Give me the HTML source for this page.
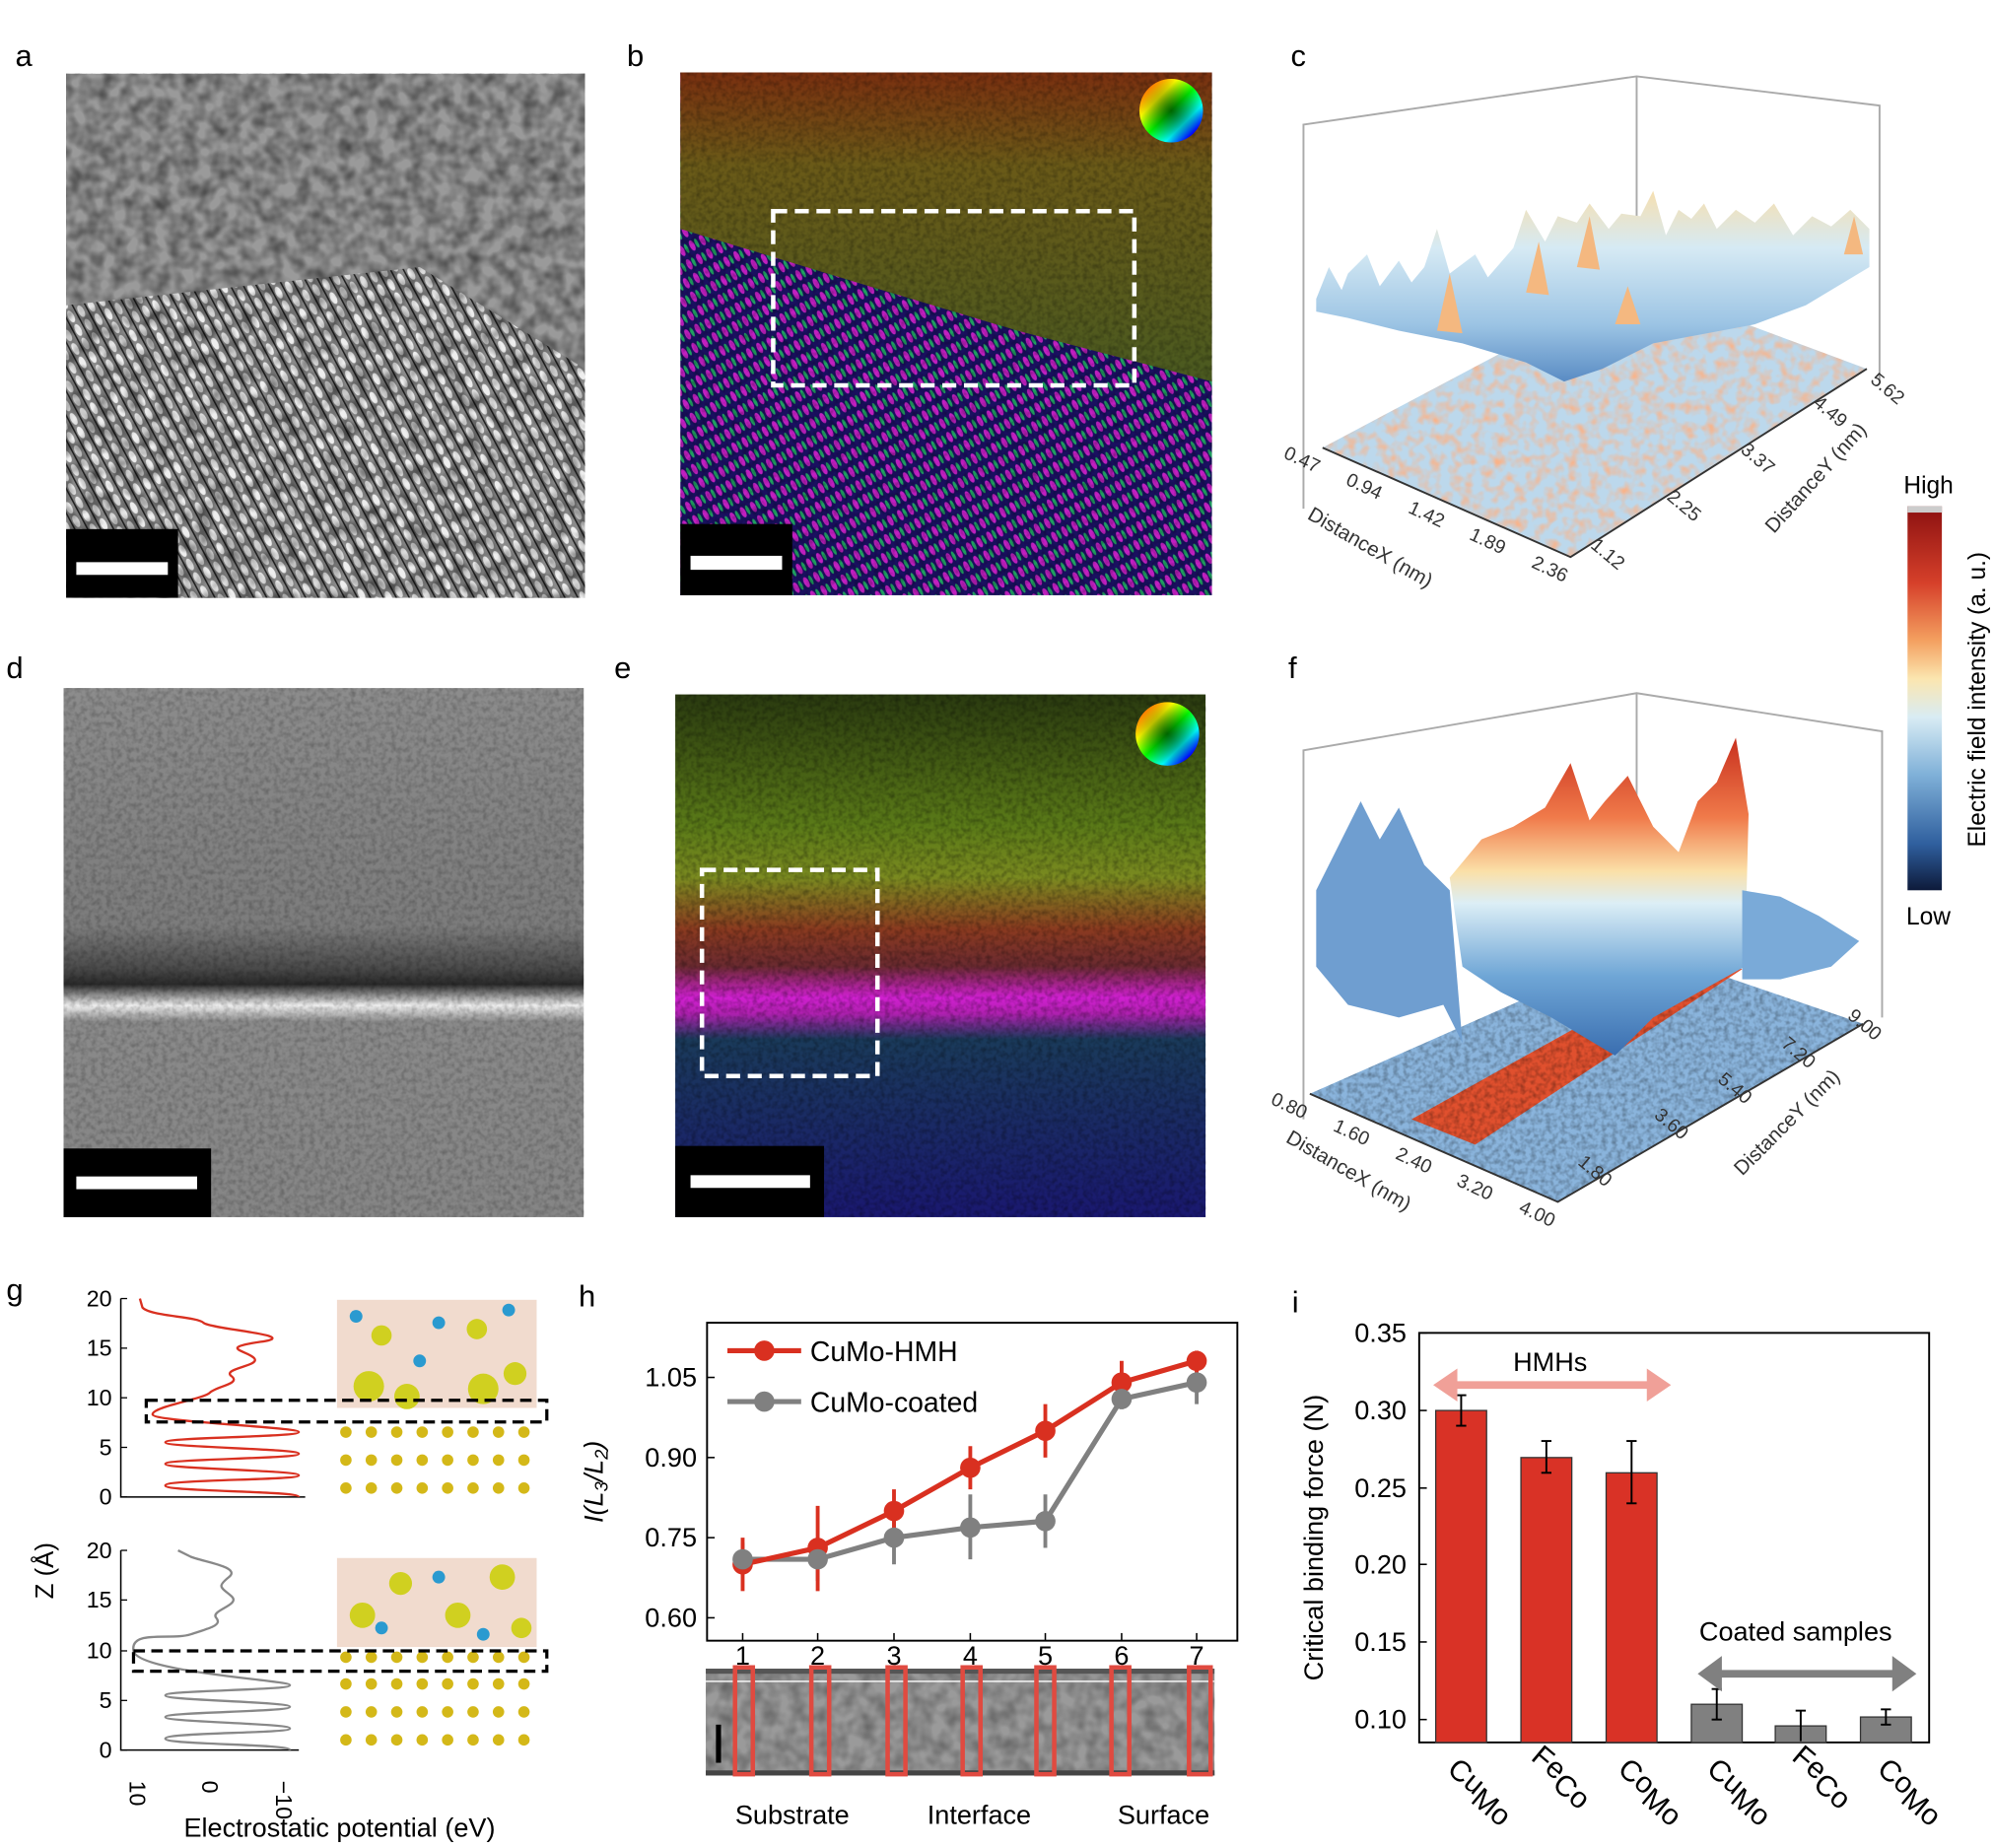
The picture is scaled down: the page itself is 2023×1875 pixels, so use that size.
<!DOCTYPE html>
<html><head><meta charset="utf-8"><style>html,body{margin:0;padding:0;background:#fff}svg{display:block}text{font-family:"Liberation Sans",sans-serif}</style></head><body>
<svg width="2023" height="1875" viewBox="0 0 1568 1453" preserveAspectRatio="none" xmlns="http://www.w3.org/2000/svg">
<defs>
<filter id="noiseG" x="0" y="0" width="100%" height="100%"><feTurbulence type="fractalNoise" baseFrequency="0.09" numOctaves="2" seed="3"/><feColorMatrix type="matrix" values="0 0 0 0 0  0 0 0 0 0  0 0 0 0 0  0 0 0 -1.6 1.1"/></filter>
<filter id="noiseF" x="0" y="0" width="100%" height="100%"><feTurbulence type="fractalNoise" baseFrequency="0.25" numOctaves="2" seed="7"/><feColorMatrix type="matrix" values="0 0 0 0 0  0 0 0 0 0  0 0 0 0 0  0 0 0 -1.2 0.75"/></filter>
<filter id="noiseR" x="0" y="0" width="100%" height="100%"><feTurbulence type="fractalNoise" baseFrequency="0.12" numOctaves="2" seed="11"/><feColorMatrix type="matrix" values="0 0 0 0 0.95  0 0 0 0 0.45  0 0 0 0 0.25  0 0 0 -2 1.2"/></filter>
<clipPath id="clipC"><polygon points="1040,352 1235,438 1468,290 1285,222"/></clipPath>
<clipPath id="clipF"><polygon points="1030,860 1225,945 1465,805 1290,745"/></clipPath>
<pattern id="latA" width="9" height="12" patternUnits="userSpaceOnUse" patternTransform="rotate(-28)"><rect width="9" height="12" fill="#8a8a8a"/><ellipse cx="4.5" cy="6" rx="2.4" ry="5" fill="#eee"/><rect x="0" width="1.2" height="12" fill="#222"/></pattern>
<pattern id="latB" width="9" height="12" patternUnits="userSpaceOnUse" patternTransform="rotate(-28)"><rect width="9" height="12" fill="#1a1060"/><ellipse cx="3" cy="6" rx="2" ry="4.5" fill="#c020c0"/><ellipse cx="7" cy="6" rx="1.3" ry="4" fill="#20a060"/></pattern>
<linearGradient id="cbar" x1="0" y1="0" x2="0" y2="1"><stop offset="0" stop-color="#8b1010"/><stop offset="0.2" stop-color="#d6402a"/><stop offset="0.35" stop-color="#f4a060"/><stop offset="0.45" stop-color="#fbe6b0"/><stop offset="0.55" stop-color="#d8ecf4"/><stop offset="0.7" stop-color="#7fb0d8"/><stop offset="0.88" stop-color="#2f5f9e"/><stop offset="1" stop-color="#0d1a3a"/></linearGradient>
<linearGradient id="fwall" x1="0" y1="0" x2="0" y2="1"><stop offset="0" stop-color="#c8301e"/><stop offset="0.25" stop-color="#f07a4a"/><stop offset="0.42" stop-color="#fbe0a8"/><stop offset="0.52" stop-color="#dceef6"/><stop offset="0.75" stop-color="#6fa6d6"/><stop offset="1" stop-color="#3a6eb0"/></linearGradient>
<linearGradient id="csurf" x1="0" y1="0" x2="0" y2="1"><stop offset="0" stop-color="#f6dfb0"/><stop offset="0.3" stop-color="#d6eaf4"/><stop offset="0.7" stop-color="#9cc4e4"/><stop offset="1" stop-color="#5a8cc4"/></linearGradient>
<linearGradient id="eBg" x1="0" y1="0" x2="0" y2="1"><stop offset="0" stop-color="#2a3a10"/><stop offset="0.25" stop-color="#5a7a18"/><stop offset="0.35" stop-color="#7a8a20"/><stop offset="0.45" stop-color="#8a3a20"/><stop offset="0.52" stop-color="#6a2a30"/><stop offset="0.58" stop-color="#d020d0"/><stop offset="0.61" stop-color="#b020b0"/><stop offset="0.66" stop-color="#1a3a5a"/><stop offset="1" stop-color="#1a1870"/></linearGradient>
<linearGradient id="bBg" x1="0" y1="0" x2="0" y2="1"><stop offset="0" stop-color="#7a3010"/><stop offset="0.3" stop-color="#6a5a18"/><stop offset="1" stop-color="#4a5a20"/></linearGradient>
<linearGradient id="dBg" x1="0" y1="0" x2="0" y2="1"><stop offset="0" stop-color="#8c8c8c"/><stop offset="0.45" stop-color="#7c7c7c"/><stop offset="0.53" stop-color="#4a4a4a"/><stop offset="0.56" stop-color="#2a2a2a"/><stop offset="0.6" stop-color="#eeeeee"/><stop offset="0.63" stop-color="#8a8a8a"/><stop offset="1" stop-color="#858585"/></linearGradient>
<radialGradient id="wheel"><stop offset="0" stop-color="#000"/><stop offset="1" stop-color="#000" stop-opacity="0"/></radialGradient>
<linearGradient id="wheelc" x1="0" y1="0" x2="1" y2="1"><stop offset="0" stop-color="#f00"/><stop offset="0.3" stop-color="#ff0"/><stop offset="0.5" stop-color="#0f0"/><stop offset="0.7" stop-color="#0ff"/><stop offset="0.85" stop-color="#00f"/><stop offset="1" stop-color="#f0f"/></linearGradient>
<g id="row"><circle cx="272" cy="0" r="4.5"/><circle cx="292" cy="0" r="4.5"/><circle cx="312" cy="0" r="4.5"/><circle cx="332" cy="0" r="4.5"/><circle cx="352" cy="0" r="4.5"/><circle cx="372" cy="0" r="4.5"/><circle cx="392" cy="0" r="4.5"/><circle cx="412" cy="0" r="4.5"/></g>
</defs>
<rect width="1568" height="1453" fill="#fff"/>

<g font-size="24" fill="#000"><text x="12" y="52">a</text><text x="493" y="52">b</text><text x="1015" y="52">c</text><text x="5" y="533">d</text><text x="483" y="533">e</text><text x="1013" y="533">f</text><text x="5" y="1022">g</text><text x="455" y="1027">h</text><text x="1016" y="1032">i</text></g>

<!-- panel a -->
<rect x="52" y="58" width="408" height="412" fill="url(#latA)"/>
<polygon points="52,58 460,58 460,290 330,210 52,240" fill="#9a9a9a"/>
<rect x="52" y="58" width="408" height="412" filter="url(#noiseG)" opacity="0.55"/>
<rect x="52" y="416" width="88" height="54" fill="#000"/><rect x="60" y="442" width="72" height="10" fill="#fff"/>

<!-- panel b -->
<rect x="535" y="57" width="418" height="411" fill="url(#latB)"/>
<polygon points="535,57 953,57 953,300 800,260 700,230 535,180" fill="url(#bBg)"/>
<rect x="535" y="57" width="418" height="411" filter="url(#noiseF)" opacity="0.45"/>
<rect x="608" y="166" width="284" height="137" fill="none" stroke="#fff" stroke-width="3.5" stroke-dasharray="11,6"/>
<circle cx="921" cy="87" r="25" fill="url(#wheelc)"/><circle cx="921" cy="87" r="25" fill="url(#wheel)" opacity="0.6"/>
<rect x="535" y="412" width="88" height="56" fill="#000"/><rect x="543" y="437" width="72" height="11" fill="#fff"/>

<!-- panel c -->
<g stroke="#aaa" stroke-width="1.5" fill="none"><polyline points="1025,400 1025,98 1287,60 1478,83 1478,300"/><line x1="1287" y1="60" x2="1287" y2="230"/></g>
<polygon points="1040,352 1235,438 1468,290 1285,222" fill="#bcd8ec"/>
<g clip-path="url(#clipC)"><rect x="1030" y="215" width="450" height="230" filter="url(#noiseR)"/></g>
<polyline points="1040,352 1235,438 1468,290" fill="none" stroke="#333" stroke-width="1.5"/>
<polygon points="1035,235 1045,210 1055,228 1060,215 1075,200 1085,225 1100,205 1110,222 1120,210 1130,180 1140,215 1160,200 1170,218 1190,195 1200,165 1215,190 1225,170 1240,175 1250,160 1265,180 1275,168 1290,170 1300,150 1310,185 1320,165 1330,172 1340,160 1350,180 1365,165 1380,175 1395,160 1410,185 1425,170 1440,178 1455,165 1470,180 1470,210 1420,240 1380,255 1300,270 1260,290 1230,300 1200,285 1150,270 1100,260 1060,250 1035,245" fill="url(#csurf)"/>
<g fill="#f4b880"><polygon points="1130,260 1140,215 1150,262"/><polygon points="1270,255 1280,225 1290,255"/><polygon points="1200,230 1210,190 1218,232"/><polygon points="1240,210 1250,170 1258,212"/><polygon points="1450,200 1458,170 1465,200"/></g>
<g font-size="15" fill="#333">
<text transform="translate(1035,372) rotate(25)" text-anchor="end">0.47</text><text transform="translate(1084,393) rotate(25)" text-anchor="end">0.94</text><text transform="translate(1133,415) rotate(25)" text-anchor="end">1.42</text><text transform="translate(1181,436) rotate(25)" text-anchor="end">1.89</text><text transform="translate(1230,458) rotate(25)" text-anchor="end">2.36</text>
<text transform="translate(1075,435) rotate(30)" font-size="16" text-anchor="middle">DistanceX (nm)</text>
<text transform="translate(1250,430) rotate(40)">1.12</text><text transform="translate(1310,392) rotate(40)">2.25</text><text transform="translate(1368,355) rotate(40)">3.37</text><text transform="translate(1425,318) rotate(40)">4.49</text><text transform="translate(1470,300) rotate(40)">5.62</text>
<text transform="translate(1395,420) rotate(-48)" font-size="16">DistanceY (nm)</text></g>

<!-- colorbar -->
<rect x="1500" y="398" width="27" height="302" fill="url(#cbar)"/><rect x="1500" y="398" width="27" height="5" fill="#ccc"/>
<text x="1497" y="388" font-size="19">High</text><text x="1499" y="727" font-size="19">Low</text>
<text transform="translate(1561,550) rotate(-90)" font-size="19" text-anchor="middle">Electric field intensity (a. u.)</text>

<!-- panel d -->
<rect x="50" y="541" width="409" height="416" fill="url(#dBg)"/>
<rect x="50" y="541" width="409" height="416" filter="url(#noiseF)" opacity="0.35"/>
<rect x="50" y="903" width="116" height="54" fill="#000"/><rect x="60" y="925" width="95" height="10" fill="#fff"/>

<!-- panel e -->
<rect x="531" y="546" width="417" height="411" fill="url(#eBg)"/>
<rect x="531" y="546" width="417" height="411" filter="url(#noiseF)" opacity="0.5"/>
<rect x="552" y="684" width="138" height="162" fill="none" stroke="#fff" stroke-width="3.5" stroke-dasharray="11,6"/>
<circle cx="918" cy="577" r="25" fill="url(#wheelc)"/><circle cx="918" cy="577" r="25" fill="url(#wheel)" opacity="0.6"/>
<rect x="531" y="901" width="117" height="56" fill="#000"/><rect x="543" y="924" width="94" height="10" fill="#fff"/>

<!-- panel f -->
<g stroke="#aaa" stroke-width="1.5" fill="none"><polyline points="1025,880 1025,590 1287,545 1480,575 1480,800"/><line x1="1287" y1="545" x2="1287" y2="740"/></g>
<polygon points="1030,860 1225,945 1465,805 1290,745" fill="#8ab4dc"/>
<polygon points="1110,880 1160,900 1370,762 1340,752" fill="#e0502e"/>
<g clip-path="url(#clipF)"><rect x="1025" y="740" width="445" height="210" fill="#2a5aa0" filter="url(#noiseF)" opacity="0.5"/></g>
<polyline points="1030,860 1225,945 1465,805" fill="none" stroke="#333" stroke-width="1.5"/>
<polygon points="1035,700 1050,670 1070,630 1085,660 1100,635 1120,680 1140,700 1150,820 1135,790 1100,800 1060,790 1035,760" fill="#6f9ed0"/>
<polygon points="1140,690 1165,660 1190,650 1215,635 1235,600 1250,645 1262,630 1280,610 1300,650 1320,670 1335,630 1350,615 1365,580 1375,640 1372,760 1300,800 1270,830 1220,800 1180,780 1150,760" fill="url(#fwall)"/>
<polygon points="1370,700 1400,705 1430,720 1462,740 1440,760 1400,770 1370,770" fill="#7aaad8"/>
<g font-size="15" fill="#333">
<text transform="translate(1025,880) rotate(25)" text-anchor="end">0.80</text><text transform="translate(1074,901) rotate(25)" text-anchor="end">1.60</text><text transform="translate(1123,923) rotate(25)" text-anchor="end">2.40</text><text transform="translate(1171,944) rotate(25)" text-anchor="end">3.20</text><text transform="translate(1220,965) rotate(25)" text-anchor="end">4.00</text>
<text transform="translate(1058,925) rotate(30)" font-size="16" text-anchor="middle">DistanceX (nm)</text>
<text transform="translate(1240,915) rotate(40)">1.80</text><text transform="translate(1300,878) rotate(40)">3.60</text><text transform="translate(1350,850) rotate(40)">5.40</text><text transform="translate(1400,822) rotate(40)">7.20</text><text transform="translate(1452,800) rotate(40)">9.00</text>
<text transform="translate(1370,925) rotate(-45)" font-size="16">DistanceY (nm)</text></g>

<!-- panel g -->
<g stroke="#000" stroke-width="1.2" fill="none"><polyline points="95,1021 95,1177 240,1177"/><polyline points="95,1219 95,1376 235,1376"/></g>
<g stroke="#000" stroke-width="1"><line x1="95" y1="1177" x2="100" y2="1177"/><line x1="95" y1="1138" x2="100" y2="1138"/><line x1="95" y1="1099" x2="100" y2="1099"/><line x1="95" y1="1060" x2="100" y2="1060"/><line x1="95" y1="1021" x2="100" y2="1021"/>
<line x1="95" y1="1376" x2="100" y2="1376"/><line x1="95" y1="1337" x2="100" y2="1337"/><line x1="95" y1="1298" x2="100" y2="1298"/><line x1="95" y1="1258" x2="100" y2="1258"/><line x1="95" y1="1219" x2="100" y2="1219"/></g>
<g font-size="18" text-anchor="end"><text x="88" y="1183">0</text><text x="88" y="1144">5</text><text x="88" y="1105">10</text><text x="88" y="1066">15</text><text x="88" y="1027">20</text>
<text x="88" y="1382">0</text><text x="88" y="1343">5</text><text x="88" y="1304">10</text><text x="88" y="1264">15</text><text x="88" y="1225">20</text></g>
<g font-size="18"><text transform="translate(102,1400) rotate(90)">10</text><text transform="translate(159,1400) rotate(90)">0</text><text transform="translate(217,1400) rotate(90)">−10</text></g>
<text transform="translate(42,1235) rotate(-90)" font-size="20" text-anchor="middle">Z (Å)</text>
<text x="267" y="1444" font-size="21" text-anchor="middle">Electrostatic potential (eV)</text>
<path d="M235,1177 C235,1172 130,1173 130,1168 S235,1164 235,1160 S130,1155 130,1151 S235,1147 235,1143 S130,1138 130,1134 S235,1130 235,1126 S120,1118 120,1112 S160,1100 165,1095 S190,1088 182,1082 S205,1074 200,1068 S170,1060 205,1055 S165,1045 160,1040 S118,1035 112,1028 L110,1021" fill="none" stroke="#d93020" stroke-width="1.8"/>
<path d="M228,1376 C228,1371 130,1372 130,1367 S228,1363 228,1359 S130,1354 130,1350 S228,1346 228,1342 S130,1337 130,1333 S228,1329 228,1325 S108,1315 105,1298 S135,1290 150,1285 S175,1278 170,1272 S190,1262 182,1255 S170,1248 180,1240 S160,1228 150,1224 L140,1219" fill="none" stroke="#888" stroke-width="1.8"/>
<g>
<rect x="265" y="1022" width="157" height="85" fill="#c8703a" opacity="0.25"/>
<g fill="#d0d020"><circle cx="290" cy="1090" r="12"/><circle cx="320" cy="1098" r="10"/><circle cx="380" cy="1092" r="12"/><circle cx="405" cy="1080" r="9"/><circle cx="300" cy="1050" r="8"/><circle cx="375" cy="1045" r="8"/></g>
<g fill="#2a9ad0"><circle cx="280" cy="1035" r="5"/><circle cx="345" cy="1040" r="5"/><circle cx="400" cy="1030" r="5"/><circle cx="330" cy="1070" r="5"/></g>
<rect x="265" y="1225" width="157" height="70" fill="#c8703a" opacity="0.25"/>
<g fill="#d0d020"><circle cx="285" cy="1270" r="10"/><circle cx="315" cy="1245" r="9"/><circle cx="360" cy="1270" r="10"/><circle cx="395" cy="1240" r="10"/><circle cx="410" cy="1280" r="8"/></g>
<g fill="#2a9ad0"><circle cx="300" cy="1280" r="5"/><circle cx="345" cy="1240" r="5"/><circle cx="380" cy="1285" r="5"/></g>
<g fill="#d4b818">
<use href="#row" y="1126"/><use href="#row" y="1148"/><use href="#row" y="1170"/>
<use href="#row" y="1324"/><use href="#row" y="1346"/><use href="#row" y="1368"/><use href="#row" y="1303"/>
</g>
</g>
<rect x="115" y="1101" width="315" height="17" fill="none" stroke="#000" stroke-width="2.5" stroke-dasharray="9,5"/>
<rect x="105" y="1298" width="325" height="16" fill="none" stroke="#000" stroke-width="2.5" stroke-dasharray="9,5"/>

<!-- panel h -->
<rect x="556" y="1040" width="417" height="250" fill="none" stroke="#000" stroke-width="1.5"/>
<g stroke="#000" stroke-width="1.2"><line x1="556" y1="1083" x2="562" y2="1083"/><line x1="556" y1="1146" x2="562" y2="1146"/><line x1="556" y1="1209" x2="562" y2="1209"/><line x1="556" y1="1272" x2="562" y2="1272"/>
<line x1="584" y1="1290" x2="584" y2="1284"/><line x1="643" y1="1290" x2="643" y2="1284"/><line x1="703" y1="1290" x2="703" y2="1284"/><line x1="763" y1="1290" x2="763" y2="1284"/><line x1="822" y1="1290" x2="822" y2="1284"/><line x1="882" y1="1290" x2="882" y2="1284"/><line x1="941" y1="1290" x2="941" y2="1284"/></g>
<g font-size="21" text-anchor="end"><text x="548" y="1090">1.05</text><text x="548" y="1153">0.90</text><text x="548" y="1216">0.75</text><text x="548" y="1279">0.60</text></g>
<g font-size="21" text-anchor="middle"><text x="584" y="1309">1</text><text x="643" y="1309">2</text><text x="703" y="1309">3</text><text x="763" y="1309">4</text><text x="822" y="1309">5</text><text x="882" y="1309">6</text><text x="941" y="1309">7</text></g>
<text transform="translate(474,1165) rotate(-90)" font-size="21" text-anchor="middle" font-style="italic">I(L<tspan font-size="14" dy="4">3</tspan><tspan dy="-4">/L</tspan><tspan font-size="14" dy="4">2</tspan><tspan dy="-4">)</tspan></text>
<g stroke="#808080" stroke-width="3"><line x1="584" y1="1213" x2="584" y2="1238"/><line x1="643" y1="1209" x2="643" y2="1243"/><line x1="703" y1="1188" x2="703" y2="1230"/><line x1="763" y1="1175" x2="763" y2="1226"/><line x1="822" y1="1175" x2="822" y2="1217"/><line x1="882" y1="1092" x2="882" y2="1108"/><line x1="941" y1="1070" x2="941" y2="1104"/></g>
<polyline points="584,1226 643,1226 703,1209 763,1201 822,1196 882,1100 941,1087" fill="none" stroke="#808080" stroke-width="4"/>
<g stroke="#d93020" stroke-width="3"><line x1="584" y1="1209" x2="584" y2="1251"/><line x1="643" y1="1184" x2="643" y2="1251"/><line x1="703" y1="1171" x2="703" y2="1205"/><line x1="763" y1="1137" x2="763" y2="1171"/><line x1="822" y1="1104" x2="822" y2="1146"/><line x1="882" y1="1070" x2="882" y2="1104"/><line x1="941" y1="1062" x2="941" y2="1079"/></g>
<polyline points="584,1230 643,1217 703,1188 763,1154 822,1125 882,1087 941,1070" fill="none" stroke="#d93020" stroke-width="4"/>
<g fill="#d93020"><circle cx="584" cy="1230" r="8"/><circle cx="643" cy="1217" r="8"/><circle cx="703" cy="1188" r="8"/><circle cx="763" cy="1154" r="8"/><circle cx="822" cy="1125" r="8"/><circle cx="882" cy="1087" r="8"/><circle cx="941" cy="1070" r="8"/></g>
<g fill="#808080"><circle cx="584" cy="1226" r="8"/><circle cx="643" cy="1226" r="8"/><circle cx="703" cy="1209" r="8"/><circle cx="763" cy="1201" r="8"/><circle cx="822" cy="1196" r="8"/><circle cx="882" cy="1100" r="8"/><circle cx="941" cy="1087" r="8"/></g>
<line x1="572" y1="1062" x2="630" y2="1062" stroke="#d93020" stroke-width="4"/><circle cx="601" cy="1062" r="8" fill="#d93020"/>
<line x1="572" y1="1102" x2="630" y2="1102" stroke="#808080" stroke-width="4"/><circle cx="601" cy="1102" r="8" fill="#808080"/>
<text x="637" y="1070" font-size="22">CuMo-HMH</text><text x="637" y="1110" font-size="22">CuMo-coated</text>
<rect x="555" y="1312" width="400" height="84" fill="#9a9a9a"/>
<rect x="555" y="1312" width="400" height="84" filter="url(#noiseG)" opacity="0.35"/>
<rect x="555" y="1312" width="400" height="4" fill="#555"/><rect x="555" y="1392" width="400" height="4" fill="#444"/>
<line x1="555" y1="1322" x2="955" y2="1322" stroke="#fff" stroke-width="1"/>
<rect x="563" y="1356" width="4" height="30" fill="#000"/>
<g fill="none" stroke="#e04a40" stroke-width="3.5"><rect x="578" y="1311" width="14" height="84"/><rect x="638" y="1311" width="14" height="84"/><rect x="698" y="1311" width="14" height="84"/><rect x="757" y="1311" width="14" height="84"/><rect x="815" y="1311" width="14" height="84"/><rect x="874" y="1311" width="14" height="84"/><rect x="935" y="1311" width="17" height="84"/></g>
<g font-size="21" text-anchor="middle"><text x="623" y="1434">Substrate</text><text x="770" y="1434">Interface</text><text x="915" y="1434">Surface</text></g>

<!-- panel i -->
<rect x="1116" y="1048" width="401" height="322" fill="none" stroke="#000" stroke-width="1.5"/>
<g stroke="#000" stroke-width="1.2"><line x1="1116" y1="1048" x2="1122" y2="1048"/><line x1="1116" y1="1109" x2="1122" y2="1109"/><line x1="1116" y1="1170" x2="1122" y2="1170"/><line x1="1116" y1="1230" x2="1122" y2="1230"/><line x1="1116" y1="1291" x2="1122" y2="1291"/><line x1="1116" y1="1352" x2="1122" y2="1352"/></g>
<g font-size="21" text-anchor="end"><text x="1106" y="1055">0.35</text><text x="1106" y="1116">0.30</text><text x="1106" y="1177">0.25</text><text x="1106" y="1237">0.20</text><text x="1106" y="1298">0.15</text><text x="1106" y="1359">0.10</text></g>
<text transform="translate(1040,1209) rotate(-90)" font-size="21" text-anchor="middle">Critical binding force (N)</text>
<g stroke="#333" stroke-width="1"><rect x="1129" y="1109" width="40" height="261" fill="#d93226"/><rect x="1196" y="1146" width="40" height="224" fill="#d93226"/><rect x="1263" y="1158" width="40" height="212" fill="#d93226"/>
<rect x="1330" y="1340" width="40" height="30" fill="#808080"/><rect x="1396" y="1357" width="40" height="13" fill="#808080"/><rect x="1463" y="1350" width="40" height="20" fill="#808080"/></g>
<g stroke="#000" stroke-width="1.5"><line x1="1149" y1="1097" x2="1149" y2="1121"/><line x1="1145" y1="1097" x2="1153" y2="1097"/><line x1="1145" y1="1121" x2="1153" y2="1121"/>
<line x1="1216" y1="1133" x2="1216" y2="1158"/><line x1="1212" y1="1133" x2="1220" y2="1133"/><line x1="1212" y1="1158" x2="1220" y2="1158"/>
<line x1="1283" y1="1133" x2="1283" y2="1182"/><line x1="1279" y1="1133" x2="1287" y2="1133"/><line x1="1279" y1="1182" x2="1287" y2="1182"/>
<line x1="1350" y1="1328" x2="1350" y2="1352"/><line x1="1346" y1="1328" x2="1354" y2="1328"/><line x1="1346" y1="1352" x2="1354" y2="1352"/>
<line x1="1416" y1="1345" x2="1416" y2="1369"/><line x1="1412" y1="1345" x2="1420" y2="1345"/>
<line x1="1483" y1="1344" x2="1483" y2="1356"/><line x1="1479" y1="1344" x2="1487" y2="1344"/><line x1="1479" y1="1356" x2="1487" y2="1356"/></g>
<line x1="1140" y1="1089" x2="1300" y2="1089" stroke="#f0a098" stroke-width="6"/>
<polygon points="1127,1089 1146,1076 1146,1102" fill="#f0a098"/><polygon points="1314,1089 1295,1076 1295,1102" fill="#f0a098"/>
<text x="1219" y="1078" font-size="21" text-anchor="middle">HMHs</text>
<line x1="1350" y1="1316" x2="1492" y2="1316" stroke="#808080" stroke-width="6"/>
<polygon points="1335,1316 1354,1302 1354,1330" fill="#808080"/><polygon points="1507,1316 1488,1302 1488,1330" fill="#808080"/>
<text x="1412" y="1290" font-size="21" text-anchor="middle">Coated samples</text>
<g font-size="23"><text transform="translate(1137,1393) rotate(40)">Cu<tspan dy="6">Mo</tspan></text><text transform="translate(1203,1383) rotate(40)">Fe<tspan dy="6">Co</tspan></text><text transform="translate(1271,1393) rotate(40)">Co<tspan dy="6">Mo</tspan></text><text transform="translate(1341,1393) rotate(40)">Cu<tspan dy="6">Mo</tspan></text><text transform="translate(1408,1383) rotate(40)">Fe<tspan dy="6">Co</tspan></text><text transform="translate(1475,1393) rotate(40)">Co<tspan dy="6">Mo</tspan></text></g>
</svg>
</body></html>
